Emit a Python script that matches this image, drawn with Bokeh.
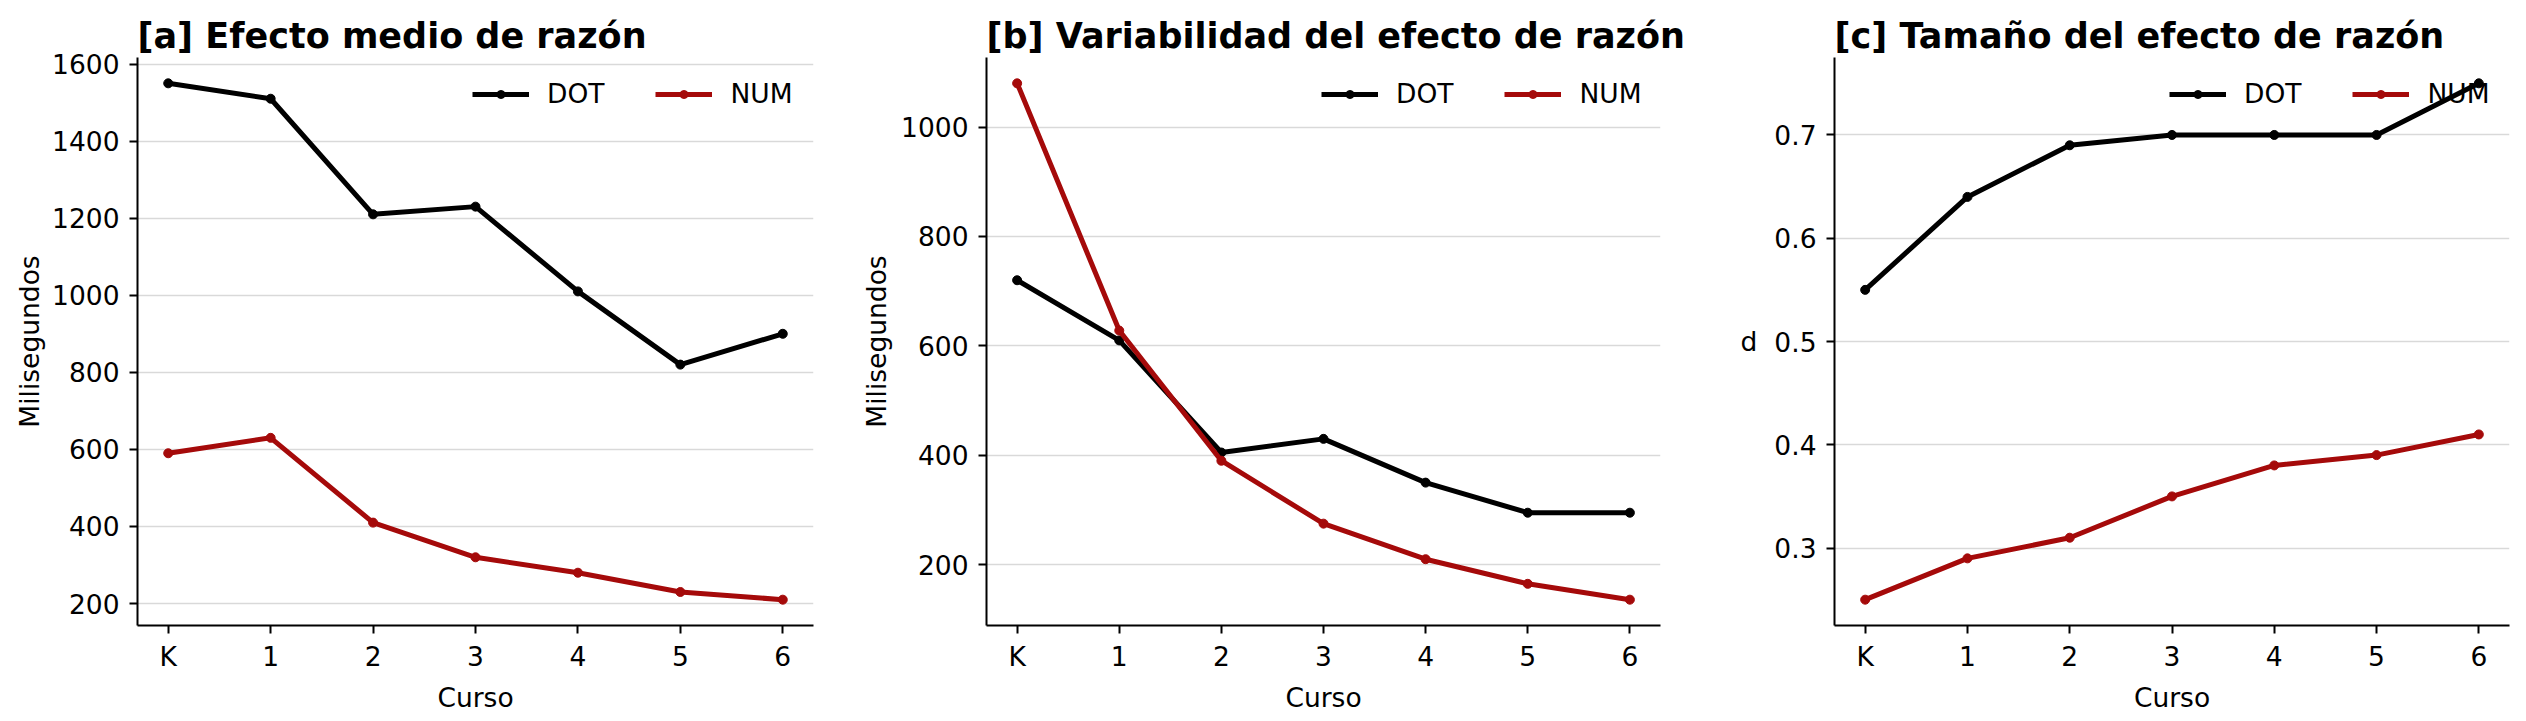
from bokeh.plotting import figure
from bokeh.layouts import row
from bokeh.models import Range1d, FixedTicker
from bokeh.embed import file_html
from bokeh.resources import INLINE

# ---- data ----
cursos = ["K", "1", "2", "3", "4", "5", "6"]
x_pos = list(range(len(cursos)))

medio_dot = [1550, 1510, 1210, 1230, 1010, 820, 900]
medio_num = [590, 630, 410, 320, 280, 230, 210]

var_dot = [720, 610, 405, 430, 350, 295, 295]
var_num = [1080, 628, 390, 275, 210, 165, 136]

d_dot = [0.55, 0.64, 0.69, 0.70, 0.70, 0.70, 0.75]
d_num = [0.25, 0.29, 0.31, 0.35, 0.38, 0.39, 0.41]

titles = ["[a]  Efecto medio de razón",
          "[b]  Variabilidad del efecto de razón",
          "[c]  Tamaño del efecto de razón"]
ylabels = ["Milisegundos", "Milisegundos", "d"]
yticks = [[200, 400, 600, 800, 1000, 1200, 1400, 1600],
          [200, 400, 600, 800, 1000],
          [0.3, 0.4, 0.5, 0.6, 0.7]]
series = [(medio_dot, medio_num), (var_dot, var_num), (d_dot, d_num)]

DOT_COLOR = "#000000"
NUM_COLOR = "#a50a0a"
FONT = "DejaVu Sans"
FS = "26.5px"

# layout (page px)
widths = [850, 860, 816]
borders = [(137, 37), (136, 50), (124, 17)]
label_standoffs = [4, 6, 14]
HEIGHT = 721
TOP = 57
BOTTOM = 96


def y_range_for(vals):
    lo = min(min(v) for v in vals)
    hi = max(max(v) for v in vals)
    m = (hi - lo) * 0.05
    return Range1d(lo - m, hi + m)


figs = []
for i in range(3):
    dot, num = series[i]
    p = figure(width=widths[i], height=HEIGHT, output_backend="svg",
               toolbar_location=None,
               x_range=Range1d(-0.3, len(cursos) - 1 + 0.3),
               y_range=y_range_for([dot, num]),
               min_border_left=borders[i][0], min_border_right=borders[i][1],
               min_border_top=TOP, min_border_bottom=BOTTOM)
    p.outline_line_color = None
    p.background_fill_color = "white"
    p.border_fill_color = "white"

    p.line(x_pos, dot, line_color=DOT_COLOR, line_width=5, legend_label="DOT")
    p.scatter(x_pos, dot, size=9, fill_color=DOT_COLOR, line_color=DOT_COLOR,
              legend_label="DOT")
    p.line(x_pos, num, line_color=NUM_COLOR, line_width=5, legend_label="NUM")
    p.scatter(x_pos, num, size=9, fill_color=NUM_COLOR, line_color=NUM_COLOR,
              legend_label="NUM")

    # title
    p.title.text = titles[i]
    p.title.text_font = FONT
    p.title.text_font_size = "35px"
    p.title.text_font_style = "bold"
    p.title.text_color = "black"
    p.title.align = "left"
    p.title.standoff = 4
    p.title.offset = 0

    # axes
    p.xaxis.ticker = FixedTicker(ticks=x_pos)
    p.xaxis.major_label_overrides = {k: v for k, v in zip(x_pos, cursos)}
    p.xaxis.axis_label = "Curso"
    p.yaxis.ticker = FixedTicker(ticks=yticks[i])
    p.yaxis.axis_label = ylabels[i]
    for ax in (p.xaxis[0], p.yaxis[0]):
        ax.axis_line_color = "black"
        ax.axis_line_width = 2
        ax.major_tick_line_color = "black"
        ax.major_tick_line_width = 2
        ax.major_tick_out = 8
        ax.major_tick_in = 0
        ax.minor_tick_line_color = None
        ax.major_label_text_font = FONT
        ax.major_label_text_font_size = FS
        ax.major_label_text_color = "black"
        ax.axis_label_text_font = FONT
        ax.axis_label_text_font_size = FS
        ax.axis_label_text_font_style = "normal"
        ax.axis_label_text_color = "black"
    p.xaxis.major_label_standoff = 7
    p.xaxis.axis_label_standoff = 7
    p.yaxis.major_label_standoff = 10
    p.yaxis.axis_label_standoff = label_standoffs[i]
    if ylabels[i] == "d":
        try:
            p.yaxis[0].axis_label_orientation = "horizontal"
        except Exception:
            pass

    # grid
    p.xgrid.grid_line_color = None
    p.ygrid.grid_line_color = "#d9d9d9"
    p.ygrid.grid_line_width = 1.5

    # legend
    lg = p.legend[0]
    lg.orientation = "horizontal"
    lg.border_line_color = None
    lg.background_fill_alpha = 0
    lg.label_text_font = FONT
    lg.label_text_font_size = FS
    lg.label_text_color = "black"
    lg.glyph_width = 57
    lg.glyph_height = 20
    lg.label_standoff = 18
    lg.spacing = 51
    lg.padding = 0
    lg.margin = 0
    frame_h = HEIGHT - TOP - BOTTOM
    lg.location = (335, frame_h - 36 - 16)

    figs.append(p)

layout = row(*figs)
open("out.html", "w").write(file_html(layout, INLINE))
